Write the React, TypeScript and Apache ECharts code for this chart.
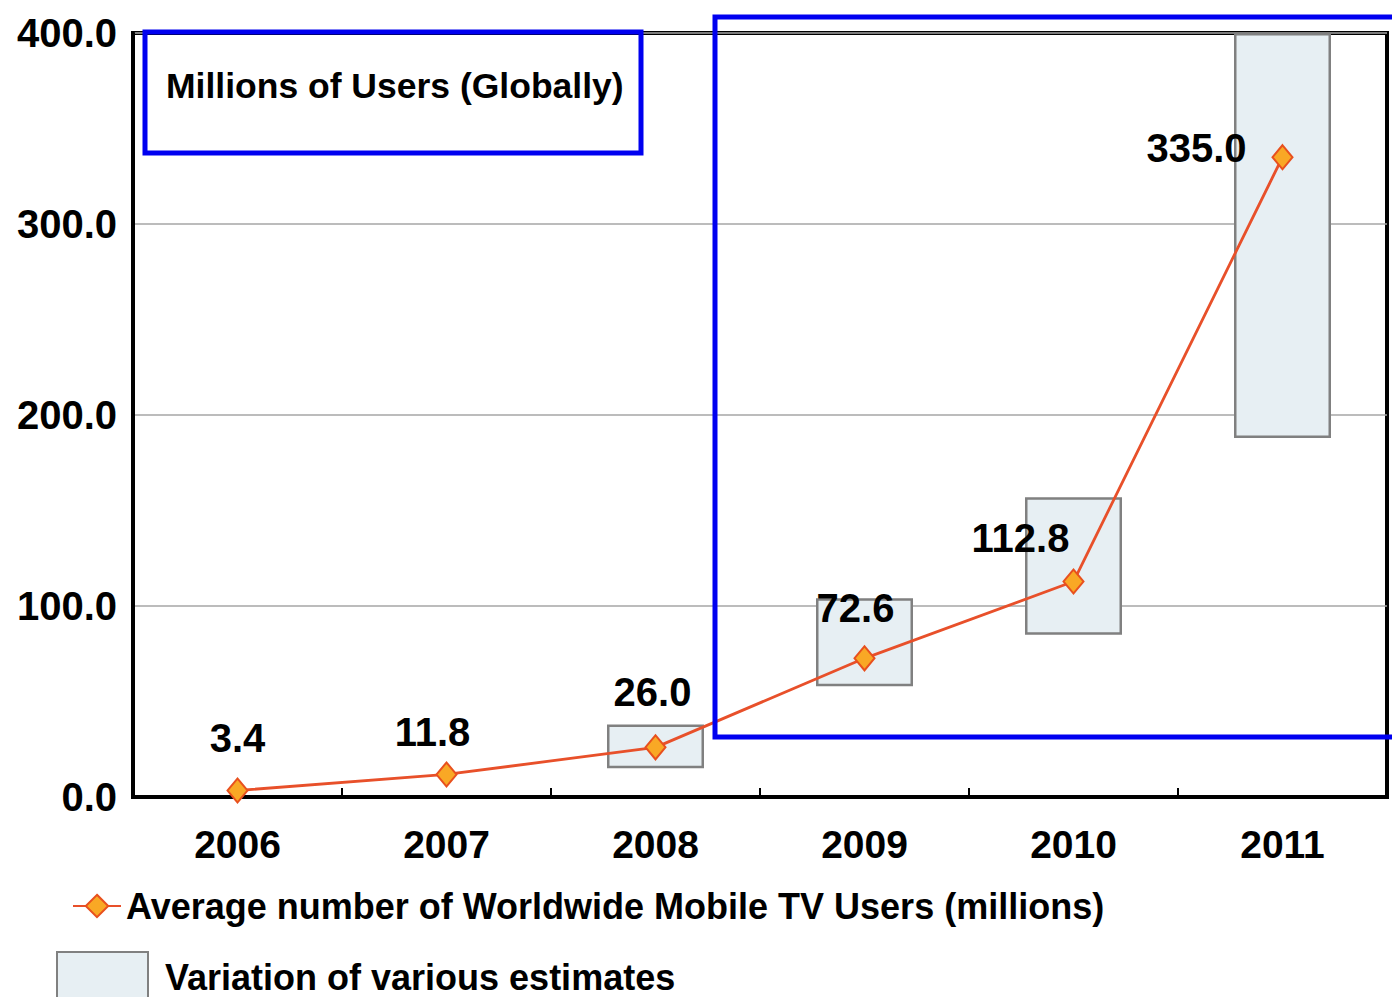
import React, { useEffect, useRef } from "react";
import * as echarts from "echarts";

const years = ["2006", "2007", "2008", "2009", "2010", "2011"];
const averageUsers = [3.4, 11.8, 26.0, 72.6, 112.8, 335.0];
const estimateLow: (number | null)[] = [null, null, 15, 58, 85, 188];
const estimateHigh: (number | null)[] = [null, null, 38, 104, 157, 400];
const yTicks = [0, 100, 200, 300, 400];
const labelOffsets: [number, number][] = [
  [0, -53],
  [-14, -42],
  [-3, -55],
  [-9, -50],
  [-53, -44],
  [-86, -9],
];

const lineName = "Average number of Worldwide Mobile TV Users (millions)";
const rangeName = "Variation of various estimates";
const titleText = "Millions of Users (Globally)";

const FONT = "'Liberation Sans', Arial, sans-serif";

export default function App() {
  const ref = useRef<HTMLDivElement>(null);
  useEffect(() => {
    document.body.style.margin = "0";
    if (!ref.current) return;
    const chart = echarts.init(ref.current, null, { renderer: "svg" });
    const rangeSize = estimateHigh.map((h, i) => {
      const l = estimateLow[i];
      return h == null || l == null ? "-" : h - l;
    });
    const baseVals = estimateLow.map((l) => (l == null ? "-" : l));
    chart.setOption({
      animation: false,
      backgroundColor: "#ffffff",
      textStyle: { fontFamily: FONT },
      title: {
        text: titleText,
        left: 161,
        top: 63,
        textStyle: { fontFamily: FONT, fontWeight: "bold", fontSize: 35.5, color: "#000" },
      },
      grid: {
        left: 133,
        right: 5,
        top: 33,
        bottom: 200,
        show: true,
        borderColor: "#000",
        borderWidth: 4,
        backgroundColor: "transparent",
      },
      legend: [
        {
          data: [lineName],
          left: 72,
          top: 888,
          padding: 0,
          itemWidth: 48,
          itemHeight: 28,
          textStyle: { fontFamily: FONT, fontWeight: "bold", fontSize: 36, color: "#000", padding: [0, 0, 0, 0] },
        },
        {
          data: [rangeName],
          icon: "rect",
          left: 56,
          top: 951,
          padding: 0,
          itemWidth: 91,
          itemHeight: 50,
          textStyle: { fontFamily: FONT, fontWeight: "bold", fontSize: 36, color: "#000", padding: [0, 0, 0, 12] },
        },
      ],
      xAxis: {
        type: "category",
        data: years,
        boundaryGap: true,
        axisLine: { show: true, lineStyle: { color: "#000", width: 4 } },
        axisTick: { show: true, inside: true, length: 9, alignWithLabel: false, lineStyle: { color: "#000", width: 2 } },
        axisLabel: { fontFamily: FONT, fontWeight: "bold", fontSize: 39, color: "#000", margin: 28 },
        splitLine: { show: false },
      },
      yAxis: {
        type: "value",
        min: yTicks[0],
        max: yTicks[yTicks.length - 1],
        interval: 100,
        axisLine: { show: true, lineStyle: { color: "#000", width: 4 } },
        axisTick: { show: false },
        axisLabel: {
          fontFamily: FONT,
          fontWeight: "bold",
          fontSize: 40,
          color: "#000",
          margin: 16,
          formatter: (v: number) => v.toFixed(1),
        },
        splitLine: { show: true, lineStyle: { color: "#a6a6a6", width: 1.5 } },
      },
      series: [
        {
          name: "base",
          type: "bar",
          stack: "range",
          barWidth: 97,
          silent: true,
          itemStyle: { color: "transparent" },
          data: baseVals,
        },
        {
          name: rangeName,
          type: "bar",
          stack: "range",
          barWidth: 97,
          itemStyle: { color: "#e7eff3", borderColor: "#808080", borderWidth: 2.5 },
          data: rangeSize,
        },
        {
          name: lineName,
          type: "line",
          symbol: "diamond",
          symbolSize: [20, 24],
          lineStyle: { color: "#e8502a", width: 2.8 },
          itemStyle: { color: "#f9a825", borderColor: "#e8501e", borderWidth: 2 },
          z: 5,
          data: averageUsers.map((v, i) => ({
            value: v,
            label: {
              show: true,
              position: "inside",
              offset: labelOffsets[i],
              formatter: (p: any) => Number(p.value).toFixed(1),
              fontFamily: FONT,
              fontWeight: "bold",
              fontSize: 40,
              color: "#000",
            },
          })),
        },
      ],
      graphic: [
        {
          type: "rect",
          z: 100,
          shape: { x: 145, y: 32, width: 496, height: 121 },
          style: { fill: "none", stroke: "#0000f0", lineWidth: 5 },
        },
        {
          type: "rect",
          z: 100,
          shape: { x: 715, y: 17, width: 700, height: 720 },
          style: { fill: "none", stroke: "#0000f0", lineWidth: 5 },
        },
      ],
    });
    return () => chart.dispose();
  }, []);
  return <div ref={ref} style={{ width: 1392, height: 997 }} />;
}
